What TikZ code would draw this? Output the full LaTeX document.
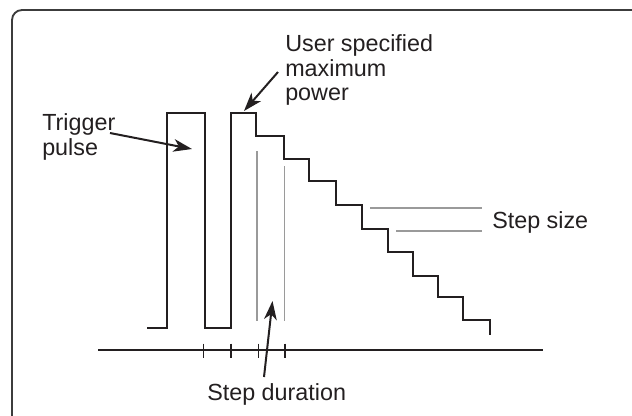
\documentclass[tikz,border=0pt]{standalone}
\usepackage{fontspec}
\setmainfont{Liberation Sans}
\usetikzlibrary{arrows.meta}
\definecolor{ink}{HTML}{231F20}
\definecolor{framec}{HTML}{3C3C3C}
\definecolor{guide}{HTML}{9A9A9A}
\tikzset{
  wave/.style={draw=ink, line width=1.8pt, line join=miter},
  guideline/.style={draw=guide, line width=1.4pt},
  axisline/.style={draw=ink, line width=1.7pt},
  tickmark/.style={draw=ink, line width=1.4pt},
  pointer/.style={draw=ink, line width=1.5pt, -{Stealth[length=14pt,width=9.5pt,inset=4pt]}},
  label/.style={font=\fontsize{17.5}{18.4}\selectfont, text=ink, inner sep=0pt, align=left, anchor=base west},
}
\begin{document}
\begin{tikzpicture}[x=0.75pt,y=-0.75pt]
\useasboundingbox (0,0) rectangle (632,415);
\begin{scope}
  \clip (0,0) rectangle (632,415);
  \draw[framec, line width=1.4pt, rounded corners=7.5pt] (12,10) rectangle (660,440);
\end{scope}
% waveform
\draw[wave] (147,328) -- (167,328) -- (167,113) -- (205,113) -- (205,328) -- (231,328) -- (231,113)
  -- (256,113) -- (256,136) -- (284,136) -- (284,159) -- (309,159) -- (309,181)
  -- (336,181) -- (336,205) -- (362,205) -- (362,229) -- (388,229) -- (388,252)
  -- (413,252) -- (413,276) -- (438,276) -- (438,297) -- (463,297) -- (463,320)
  -- (490,320) -- (490,335);
% guide lines
\draw[guideline] (257,151) -- (257,321);
\draw[guideline] (284.5,166) -- (284.5,321);
\draw[guideline] (370,208) -- (482,208);
\draw[guideline, line width=1pt] (396,231) -- (482,231);
% axis
\draw[axisline] (98,350) -- (543,350);
\foreach \tx in {203.5,231,258.5,285}
  \draw[tickmark] (\tx,343.5) -- (\tx,358);
% labels (base anchor = baseline of the last line)
\node[label] (trig) at (42,155.2) {Trigger\\pulse};
\node[label] (user) at (285,100.7) {User specified\\maximum\\power};
\node[label] (size) at (492,228.3) {Step size};
\node[label] (dur) at (207,400) {Step duration};
% arrows
\coordinate (trigtail) at (110,133);
\coordinate (trigtip) at (192,149);
\coordinate (usertail) at (278,72);
\coordinate (usertip) at (244,111);
\coordinate (durtail) at (264,377);
\coordinate (durtip) at (272.5,301);
\draw[pointer] (trigtail) -- (trigtip);
\draw[pointer] (usertail) -- (usertip);
\draw[pointer] (durtail) -- (durtip);
\end{tikzpicture}
\end{document}
